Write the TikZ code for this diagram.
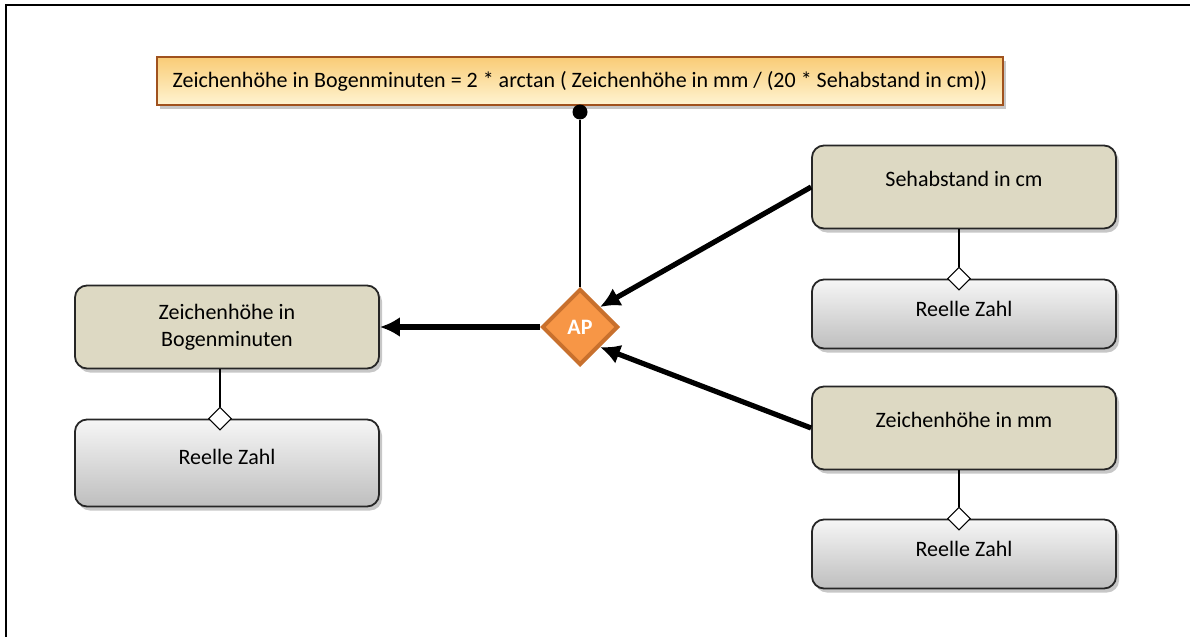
\documentclass[tikz,border=0pt]{standalone}
\usepackage{fontspec}
\setmainfont{Carlito}
\usetikzlibrary{shapes.geometric,arrows.meta,shadows}

\definecolor{formeltop}{RGB}{249,204,118}
\definecolor{formelbot}{RGB}{255,244,210}
\definecolor{formelrand}{RGB}{160,82,30}
\definecolor{begriff}{RGB}{221,217,195}
\definecolor{typtop}{RGB}{246,246,246}
\definecolor{typbot}{RGB}{190,190,190}
\definecolor{apfill}{RGB}{247,150,70}
\definecolor{aprand}{RGB}{200,112,45}

\begin{document}
\begin{tikzpicture}[x=0.5pt,y=-0.5pt,font=\fontsize{11}{13.5}\selectfont,
    schatten/.style={drop shadow={shadow xshift=1.5pt,shadow yshift=-2pt,opacity=0.22,fill=black}},
    begriffbox/.style={draw=black!85,line width=0.9pt,rounded corners=6pt,fill=begriff,
        minimum width=152pt,minimum height=41.5pt,align=center,schatten},
    typbox/.style={draw=black!85,line width=0.9pt,rounded corners=6pt,top color=typtop,
        bottom color=typbot,minimum width=152pt,schatten},
    raute/.style={draw=black,fill=white,shape=diamond,aspect=1,inner sep=0pt,
        minimum width=11.5pt,minimum height=11.5pt,line width=0.5pt},
    pfeil/.style={line width=2.6pt,-{Latex[length=10pt,width=10pt]}}]
    \useasboundingbox (0,0) rectangle (1190,637);
    \draw [line width=1pt] (6,637) -- (6,5) -- (1190,5);

    % formel oben
    \node [draw=formelrand,line width=1.2pt,top color=formeltop,bottom color=formelbot,
        minimum width=423pt,minimum height=24pt,schatten] (formel) at (580,81)
        {Zeichenhöhe in Bogenminuten = 2 * arctan ( Zeichenhöhe in mm / (20 * Sehabstand in cm))};

    % anwendung
    \node [shape=diamond,aspect=1,inner sep=0pt,minimum width=38pt,minimum height=38pt,
        fill=apfill,draw=aprand,line width=2pt,text=white,font=\fontsize{11}{13}\selectfont\bfseries] (ap) at (580,327) {AP};
    \node [circle,fill=black,inner sep=0pt,minimum size=7.5pt] (punkt) at (580,112) {};
    \draw [line width=0.7pt] (punkt) -- (ap.north);

    % links
    \node [begriffbox] (ergebnis) at (227,327) {Zeichenhöhe in\\Bogenminuten};
    \node [typbox,minimum height=43.5pt,text depth=6pt] (typ1) at (227,463) {Reelle Zahl};

    % rechts
    \node [begriffbox,text depth=8pt] (abstand) at (964,187) {Sehabstand in cm};
    \node [typbox,minimum height=34.5pt,text depth=5pt] (typ2) at (964,314) {Reelle Zahl};
    \node [begriffbox,text depth=8pt] (hoehe) at (964,428) {Zeichenhöhe in mm};
    \node [typbox,minimum height=34.5pt,text depth=5pt] (typ3) at (964,554) {Reelle Zahl};

    \node [raute] (r1) at (typ1.north -| 220,0) {};
    \node [raute] (r2) at (typ2.north -| 959,0) {};
    \node [raute] (r3) at (typ3.north -| 959,0) {};
    \draw [line width=0.7pt] (ergebnis.south -| r1) -- (r1.north);
    \draw [line width=0.7pt] (abstand.south -| r2) -- (r2.north);
    \draw [line width=0.7pt] (hoehe.south -| r3) -- (r3.north);

    \draw [pfeil] (ap.west) -- (ergebnis.east);
    \draw [pfeil] (abstand.west) -- (ap.north east);
    \draw [pfeil] (hoehe.west) -- (ap.south east);
\end{tikzpicture}
\end{document}
